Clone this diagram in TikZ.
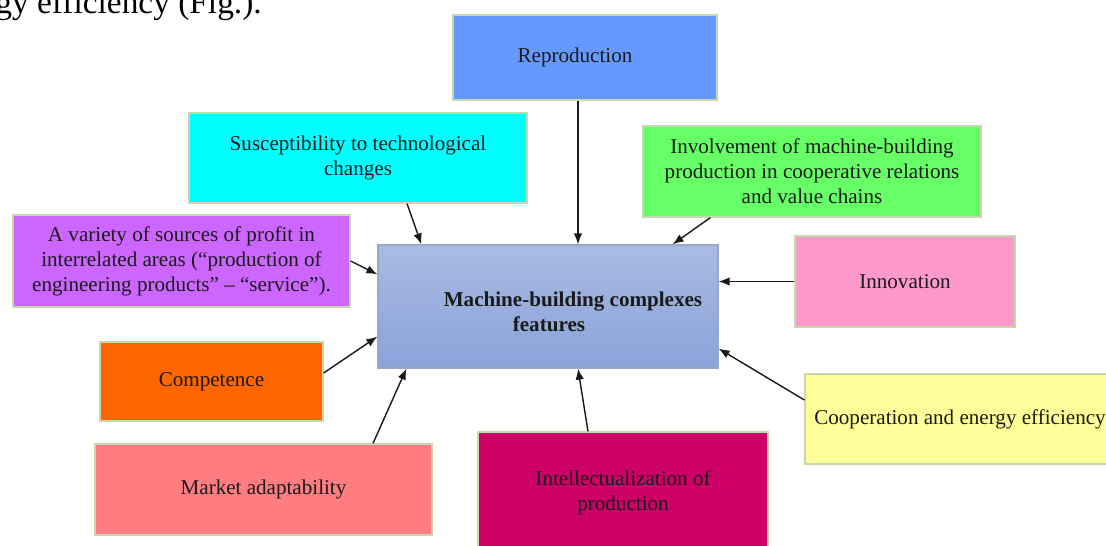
\documentclass[tikz,border=0pt]{standalone}
\usepackage{fontspec}
\setmainfont{Liberation Serif}
\usepackage{xcolor}
\usetikzlibrary{arrows.meta,positioning,calc}

\definecolor{reprblue}{HTML}{6699FF}
\definecolor{susccyan}{HTML}{00FFFF}
\definecolor{invogreen}{HTML}{66FF66}
\definecolor{varipurple}{HTML}{CC66FF}
\definecolor{innopink}{HTML}{FF99CC}
\definecolor{comporange}{HTML}{FF6600}
\definecolor{coopyellow}{HTML}{FFFF99}
\definecolor{marksalmon}{HTML}{FF7C80}
\definecolor{intemagenta}{HTML}{CC0066}
\definecolor{coretop}{HTML}{A9BAE2}
\definecolor{corebot}{HTML}{8AA3DA}
\definecolor{edge}{HTML}{C6D8B0}
\definecolor{txt}{HTML}{1A1A1A}

\begin{document}
\begin{tikzpicture}[
    >={Latex[length=2.2mm,width=1.7mm]},
    feat/.style={rectangle,draw=edge,line width=0.7pt,align=center,inner sep=2pt,
      text=txt,font=\fontsize{12}{14.2}\selectfont},
    link/.style={->,line width=0.8pt,black!90}]
  \useasboundingbox (0,0) rectangle (22.12,-10.92);
  % ---- running text above the figure ----
  \node[anchor=base west,inner sep=0pt,font=\fontsize{19}{22}\selectfont] (capt) at (-0.1,-0.27) {gy efficiency (Fig.).};
  % ---- centre ----
  \node[feat,minimum width=6.8cm,minimum height=2.46cm,top color=coretop,bottom color=corebot,
        draw=coretop!90!black,align=left,font=\bfseries\fontsize{12}{14.2}\selectfont] (core) at (10.96,-6.13)
        {\hspace*{1cm}Machine-building complexes\\\hspace*{2.38cm}features\\[-20pt]};
  % ---- features round the centre ----
  \node[feat,fill=reprblue,minimum width=5.28cm,minimum height=1.7cm] (repr) at (11.7,-1.15) {\raisebox{-2pt}{Reproduction}\hspace*{0.4cm}};
  \node[feat,fill=susccyan,minimum width=6.76cm,minimum height=1.8cm] (susc) at (7.16,-3.16) {Susceptibility to technological\\changes};
  \node[feat,fill=invogreen,minimum width=6.76cm,minimum height=1.82cm] (invo) at (16.24,-3.43) {Involvement of machine-building\\production in cooperative relations\\and value chains};
  \node[feat,fill=varipurple,minimum width=6.74cm,minimum height=1.84cm] (vari) at (3.63,-5.22) {A variety of sources of profit in\\interrelated areas (“production of\\engineering products” – “service”).};
  \node[feat,fill=innopink,minimum width=4.4cm,minimum height=1.82cm] (inno) at (18.1,-5.63) {Innovation};
  \node[feat,fill=comporange,minimum width=4.46cm,minimum height=1.58cm] (comp) at (4.23,-7.63) {\raisebox{-2pt}{Competence}};
  \node[feat,fill=coopyellow,minimum width=6.2cm,minimum height=1.8cm] (coop) at (19.2,-8.38) {Cooperation and energy efficiency};
  \node[feat,fill=marksalmon,minimum width=6.74cm,minimum height=1.82cm] (mark) at (5.27,-9.79) {\raisebox{-2pt}{Market adaptability}};
  \node[feat,fill=intemagenta,minimum width=5.8cm,minimum height=2.44cm] (inte) at (12.46,-9.86) {Intellectualization of\\production};
  % ---- arrows into the centre ----
  \draw[link] ([xshift=-1.4mm]repr.south) -- ([xshift=-1.4mm]repr.south |- core.north);
  \draw[link] ([xshift=9.8mm]susc.south) -- ([xshift=8.8mm]core.north west);
  \draw[link] ([xshift=13.6mm]invo.south west) -- ([xshift=-9.2mm]core.north east);
  \draw[link] (vari.east) -- ([yshift=-6mm]core.north west);
  \draw[link] (inno.west) -- (inno.west -| core.east);
  \draw[link] ([yshift=1.7mm]comp.east) -- ([yshift=6.4mm]core.south west);
  \draw[link] ([yshift=3.8mm]coop.west) -- ([yshift=4mm]core.south east);
  \draw[link] ([xshift=21.9mm]mark.north) -- ([xshift=5.8mm]core.south west);
  \draw[link] ([xshift=-7mm]inte.north) -- ([xshift=6mm]core.south);
\end{tikzpicture}
\end{document}
